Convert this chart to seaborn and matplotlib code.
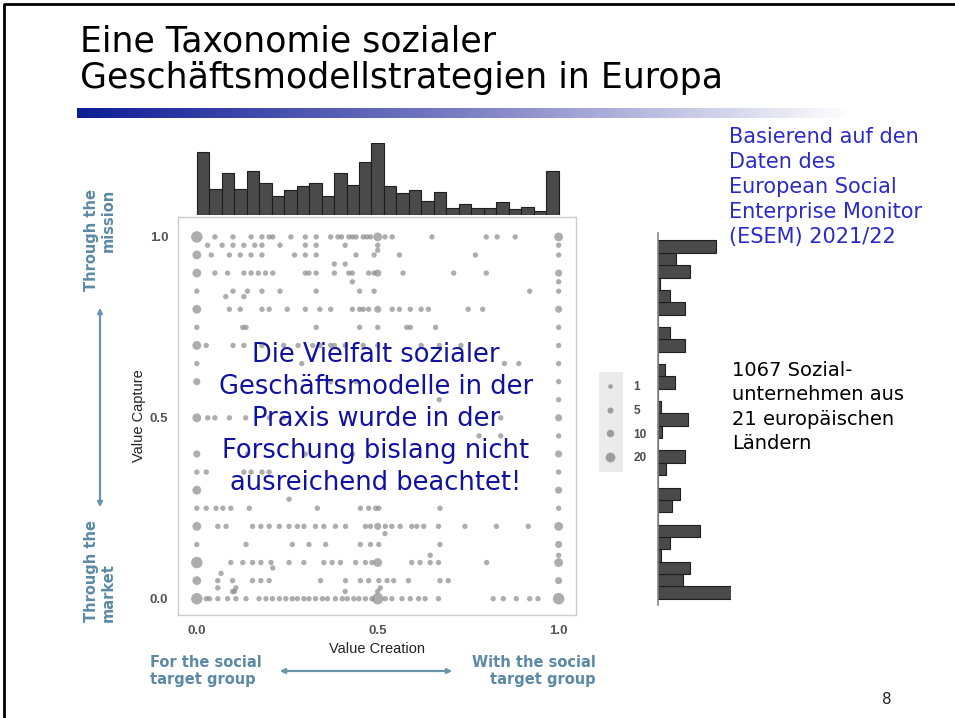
import numpy as np
import pandas as pd
import matplotlib
matplotlib.use("Agg")
import matplotlib.pyplot as plt
import seaborn as sns
from matplotlib.colors import LinearSegmentedColormap
from matplotlib.lines import Line2D
from matplotlib.patches import Rectangle, FancyArrowPatch

W, H = 955, 718

# --- data ---
# value capture levels (rows) and the value-creation scores of single firms in each row
cap_levels = [1.0, 0.977, 0.963, 0.95, 0.925, 0.9, 0.876, 0.85, 0.835, 0.8, 0.75, 0.7,
              0.65, 0.6, 0.55, 0.5, 0.45, 0.4, 0.35, 0.3, 0.275, 0.25, 0.2, 0.18, 0.15,
              0.12, 0.1, 0.085, 0.07, 0.05, 0.03, 0.02, 0.0]
creation_singles = [
    [0.05, 0.10, 0.15, 0.18, 0.20, 0.21, 0.26, 0.30, 0.33, 0.37, 0.39, 0.40, 0.42, 0.43,
     0.44, 0.46, 0.47, 0.48, 0.52, 0.54, 0.65, 0.80, 0.83, 0.88],
    [0.03, 0.07, 0.10, 0.13, 0.16, 0.18, 0.23, 0.30, 0.33, 0.41, 0.50, 1.0],
    [0.50],
    [0.04, 0.09, 0.12, 0.15, 0.18, 0.27, 0.30, 0.33, 0.44, 0.49, 0.56, 0.77, 1.0],
    [0.38, 0.41],
    [0.05, 0.085, 0.13, 0.15, 0.17, 0.19, 0.21, 0.30, 0.31, 0.33, 0.38, 0.42, 0.43, 0.475,
     0.49, 0.57, 0.71, 0.80],
    [0.43, 1.0],
    [0.0, 0.10, 0.14, 0.18, 0.23, 0.33, 0.45, 0.49, 0.92, 1.0],
    [0.08, 0.13],
    [0.09, 0.12, 0.18, 0.20, 0.25, 0.30, 0.34, 0.37, 0.43, 0.45, 0.46, 0.475, 0.54, 0.56,
     0.59, 0.62, 0.64, 0.75, 0.79],
    [0.0, 0.127, 0.136, 0.33, 0.45, 0.50, 0.58, 0.59, 0.66, 1.0],
    [0.026, 0.10, 0.13, 0.18, 0.24, 0.28, 0.32, 0.34, 0.37, 0.38, 0.41, 0.46, 0.50, 0.62,
     0.67, 0.73, 1.0],
    [0.0, 0.29, 0.85, 0.89, 1.0],
    [0.37, 0.44, 1.0],
    [0.67, 1.0],
    [0.03, 0.05, 0.09, 0.135, 0.20, 0.24, 0.84],
    [0.78, 0.84, 1.0],
    [0.14, 0.30, 0.43],
    [0.0, 0.026, 0.13, 0.15, 0.18, 0.20, 1.0],
    [],
    [0.255],
    [0.0, 0.026, 0.053, 0.072, 0.094, 0.145, 0.333, 0.452, 0.475, 0.494, 0.503, 0.672, 1.0],
    [0.058, 0.081, 0.154, 0.177, 0.20, 0.228, 0.255, 0.278, 0.296, 0.328, 0.351, 0.383,
     0.411, 0.466, 0.48, 0.521, 0.539, 0.562, 0.594, 0.608, 0.627, 0.668, 0.741, 0.828, 0.916],
    [0.52],
    [0.0, 0.136, 0.264, 0.31, 0.356, 0.452, 0.48, 0.503, 0.672],
    [0.645, 1.0],
    [0.094, 0.127, 0.154, 0.177, 0.205, 0.255, 0.296, 0.351, 0.374, 0.397, 0.439, 0.466,
     0.484, 0.594, 0.617, 0.645, 0.668, 0.801],
    [0.21],
    [0.067],
    [0.058, 0.099, 0.154, 0.177, 0.20, 0.342, 0.411, 0.452, 0.475, 0.503, 0.526, 0.544,
     0.585, 0.672, 0.695],
    [0.058, 0.108, 0.507],
    [0.099, 0.104, 0.41, 0.50],
    [0.026, 0.035, 0.058, 0.085, 0.108, 0.136, 0.172, 0.191, 0.209, 0.228, 0.246, 0.264,
     0.278, 0.296, 0.31, 0.328, 0.347, 0.361, 0.383, 0.402, 0.416, 0.434, 0.448, 0.466,
     0.484, 0.521, 0.539, 0.567, 0.59, 0.613, 0.631, 0.668, 0.819, 0.847, 0.883, 0.92, 0.943],
]
# larger clusters (several firms on the same spot)
big_creation = [0.0, 0.5, 1.0, 0.0, 0.0, 0.5, 1.0, 0.0, 0.5, 1.0, 0.0, 0.0, 0.0, 1.0,
                0.0, 1.0, 0.0, 1.0, 0.0, 0.5, 1.0, 1.0, 0.0, 0.5, 1.0, 0.0, 1.0, 0.0, 0.5, 1.0]
big_capture = [1.0, 1.0, 1.0, 0.95, 0.9, 0.9, 0.9, 0.8, 0.8, 0.8, 0.7, 0.6, 0.5, 0.5,
               0.4, 0.4, 0.3, 0.3, 0.2, 0.2, 0.2, 0.15, 0.1, 0.1, 0.1, 0.05, 0.05, 0.0, 0.0, 0.0]
big_n = [20, 10, 10, 10, 10, 5, 5, 10, 5, 5, 10, 5, 10, 5,
         5, 5, 10, 5, 10, 5, 10, 5, 20, 10, 10, 10, 5, 20, 20, 20]

# marginal histograms (29 bins from 0 to 1)
creation_counts = [87, 36, 58, 36, 61, 44, 26, 34, 40, 44, 26, 58, 41, 73, 99,
                   40, 30, 34, 19, 32, 10, 15, 10, 10, 18, 8, 11, 5, 61]
capture_counts = [153, 53, 67, 6, 25, 88, 0, 29, 46, 0, 17, 57, 0, 8, 63,
                  6, 0, 36, 15, 0, 57, 25, 0, 57, 25, 4, 67, 38, 122]

legend_n = [1, 5, 10, 20]

rows = []
for lvl, xs in zip(cap_levels, creation_singles):
    for x in xs:
        rows.append((x, lvl, 1))
for x, y, n in zip(big_creation, big_capture, big_n):
    rows.append((x, y, n))
df = pd.DataFrame(rows, columns=["creation", "capture", "n"])

nbins = len(creation_counts)
edges = np.linspace(0, 1, nbins + 1)
centers = (edges[:-1] + edges[1:]) / 2
hist_top = pd.DataFrame({"creation": centers, "count": creation_counts})
hist_right = pd.DataFrame({"capture": centers, "count": capture_counts})

sns.set_style("white")
plt.rcParams["font.family"] = ["DejaVu Sans"]

fig = plt.figure(figsize=(W / 100, H / 100), dpi=100)


def fx(px):
    return px / W


def fy(py):
    return 1 - py / H


teal = "#5b89a6"
grey_pt = "#8a8a8a"
size_min, size_max = 15, 68

# --- scatter ---
ax = fig.add_axes([fx(178), fy(615), 398 / W, 398 / H])
sns.scatterplot(data=df, x="creation", y="capture", size="n", sizes=(size_min, size_max),
                size_norm=(1, 20), color=grey_pt, alpha=0.7, linewidth=0, legend=False, ax=ax)
ax.set_xlim(-0.052, 1.048)
ax.set_ylim(-0.045, 1.055)
ax.set_xticks([0, 0.5, 1.0])
ax.set_yticks([0, 0.5, 1.0])
ax.set_xticklabels(["0.0", "0.5", "1.0"])
ax.set_yticklabels(["0.0", "0.5", "1.0"])
ax.tick_params(length=4, width=1, color="#666666", labelcolor="#555555", labelsize=9.5, pad=3)
for lab in ax.get_xticklabels() + ax.get_yticklabels():
    lab.set_fontweight("bold")
    lab.set_family("Liberation Sans")
for sp in ax.spines.values():
    sp.set_color("#cccccc")
    sp.set_linewidth(1)
ax.set_xlabel("Value Creation", fontsize=10.5, family="Liberation Sans", color="#222222", labelpad=4)
ax.set_ylabel("Value Capture", fontsize=10.5, family="Liberation Sans", color="#222222", labelpad=3)

# --- top marginal ---
ax_top = fig.add_axes([fx(178), fy(215), 398 / W, 72 / H])
sns.histplot(data=hist_top, x="creation", weights="count", bins=nbins, binrange=(0, 1),
             color="#4a4a4a", edgecolor="#1e1e1e", linewidth=0.8, alpha=1, ax=ax_top)
ax_top.set_xlim(-0.052, 1.048)
ax_top.set_ylim(0, max(creation_counts))
ax_top.axis("off")

# --- right marginal ---
ax_r = fig.add_axes([fx(658), fy(605), 73 / W, 372 / H])
sns.histplot(data=hist_right, y="capture", weights="count", bins=nbins, binrange=(0, 1),
             color="#4a4a4a", edgecolor="#1e1e1e", linewidth=0.8, alpha=1, ax=ax_r)
ax_r.set_ylim(-0.0174, 1.0208)
ax_r.set_xlim(0, max(capture_counts))
ax_r.set_xticks([])
ax_r.set_yticks([])
ax_r.set_xlabel("")
ax_r.set_ylabel("")
for side in ["top", "right", "bottom"]:
    ax_r.spines[side].set_visible(False)
ax_r.spines["left"].set_color("#888888")
ax_r.spines["left"].set_linewidth(1.2)

# --- size legend ---
fig.patches.append(Rectangle((fx(599), fy(472)), 24 / W, 100 / H, transform=fig.transFigure,
                             facecolor="#ebebeb", edgecolor="none", zorder=-1))
handles = [Line2D([0], [0], marker="o", linestyle="",
                  markersize=np.sqrt(size_min + (n - 1) / 19 * (size_max - size_min)) * 0.85,
                  markerfacecolor=grey_pt, markeredgewidth=0, alpha=0.8) for n in legend_n]
fig.legend(handles, [str(n) for n in legend_n], loc="upper left", bbox_to_anchor=(fx(605), fy(381)),
           frameon=False, handlelength=0.9, handletextpad=1.5, labelspacing=1.0, borderpad=0,
           borderaxespad=0, prop={"size": 8.5, "weight": "bold", "family": "Liberation Sans"},
           labelcolor="#4d4d4d")

# --- slide decoration ---
ax_g = fig.add_axes([fx(77), fy(118), (853 - 77) / W, 10 / H])
grad_cmap = LinearSegmentedColormap.from_list("bar", ["#0d1d96", "#7b7fc4", "#ffffff"])
ax_g.imshow(np.linspace(0, 1, 300)[None, :], aspect="auto", cmap=grad_cmap)
ax_g.axis("off")

fig.add_artist(Line2D([fx(4), fx(4), 1.0], [0.0, fy(4), fy(4)], transform=fig.transFigure,
                      color="black", linewidth=2))

fig.text(fx(80), fy(24), "Eine Taxonomie sozialer\nGeschäftsmodellstrategien in Europa",
         fontsize=25, va="top", ha="left", color="black", linespacing=1.12)

fig.text(fx(729), fy(187), "Basierend auf den\nDaten des\nEuropean Social\nEnterprise Monitor\n(ESEM) 2021/22",
         fontsize=15, va="center", ha="left", color="#2b2bc8", linespacing=1.3)
fig.text(fx(732), fy(407), "1067 Sozial-\nunternehmen aus\n21 europäischen\nLändern",
         fontsize=14, va="center", ha="left", color="black", linespacing=1.37)
fig.text(fx(376), fy(419), "Die Vielfalt sozialer\nGeschäftsmodelle in der\nPraxis wurde in der\nForschung bislang nicht\nausreichend beachtet!",
         fontsize=18.5, va="center", ha="center", multialignment="center", color="#1212a0",
         linespacing=1.29, zorder=5)
fig.text(fx(887), fy(700), "8", fontsize=11, ha="center", va="center", color="#222222")

# value capture annotations
fig.text(fx(100), fy(240), "Through the\nmission", rotation=90, fontsize=10.5, fontweight="bold",
         color=teal, ha="center", va="center", multialignment="right")
fig.text(fx(100), fy(571), "Through the\nmarket", rotation=90, fontsize=10.5, fontweight="bold",
         color=teal, ha="center", va="center", multialignment="left")
fig.add_artist(FancyArrowPatch((fx(100), fy(305)), (fx(100), fy(510)), transform=fig.transFigure,
                               arrowstyle="<|-|>", mutation_scale=7, color="#6b95ae", linewidth=1.6))

# value creation annotations
fig.text(fx(150), fy(671), "For the social\ntarget group", fontsize=10.5, fontweight="bold",
         color=teal, ha="left", va="center", multialignment="left")
fig.text(fx(596), fy(671), "With the social\ntarget group", fontsize=10.5, fontweight="bold",
         color=teal, ha="right", va="center", multialignment="right")
fig.add_artist(FancyArrowPatch((fx(277), fy(671)), (fx(455), fy(671)), transform=fig.transFigure,
                               arrowstyle="<|-|>", mutation_scale=7, color="#6b95ae", linewidth=1.6))

fig.savefig("out.png", dpi=100)
